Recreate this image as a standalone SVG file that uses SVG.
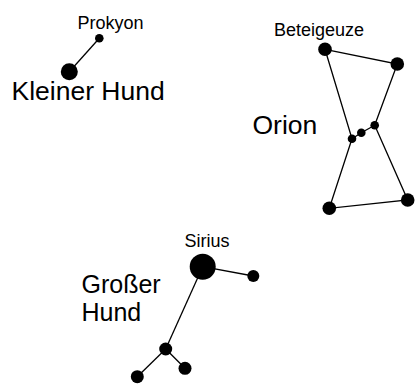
<svg xmlns="http://www.w3.org/2000/svg" width="415" height="385" viewBox="0 0 415 385">
<style>
.bg{fill:#fff}
.ln{stroke:#000;stroke-width:1.3;fill:none}
.st{fill:#000}
.big{font-family:"Liberation Sans",Arial,sans-serif;font-size:26.5px;fill:#000}
.mid{font-family:"Liberation Sans",Arial,sans-serif;font-size:25px;fill:#000}
.sm{font-family:"Liberation Sans",Arial,sans-serif;font-size:18px;fill:#000}
</style>
<rect class="bg" x="0" y="0" width="415" height="385"/>
<g id="connectors">
<line class="ln" x1="69.3" y1="71.7" x2="99.3" y2="38.3"/>
<polyline class="ln" points="325,49.3 397.3,64 374.7,125.3 407.7,200 329.3,208.3 352,138.7 325,49.3"/>
<polyline class="ln" points="352,138.7 361.3,132.7 374.7,125.3"/>
<line class="ln" x1="202.7" y1="266.7" x2="253.3" y2="276"/>
<line class="ln" x1="202.7" y1="266.7" x2="165.7" y2="349"/>
<line class="ln" x1="165.7" y1="349" x2="185" y2="368.3"/>
<line class="ln" x1="165.7" y1="349" x2="137.3" y2="376.7"/>
</g>
<g id="kleiner-hund">
<circle class="st" cx="99.3" cy="38.3" r="4.3"/>
<circle class="st" cx="69.3" cy="71.7" r="8.5"/>
<text class="sm" x="77.5" y="28.5">Prokyon</text>
<text class="big" x="11.5" y="100">Kleiner Hund</text>
</g>
<g id="orion">
<circle class="st" cx="325" cy="49.3" r="6.8"/>
<circle class="st" cx="397.3" cy="64" r="6.8"/>
<circle class="st" cx="374.7" cy="125.3" r="4.3"/>
<circle class="st" cx="361.3" cy="132.7" r="4.3"/>
<circle class="st" cx="352" cy="138.7" r="4.3"/>
<circle class="st" cx="329.3" cy="208.3" r="6.8"/>
<circle class="st" cx="407.7" cy="200" r="6.8"/>
<text class="sm" x="274" y="35.5">Beteigeuze</text>
<text class="big" x="252.5" y="133.5">Orion</text>
</g>
<g id="grosser-hund">
<circle class="st" cx="202.7" cy="266.7" r="13"/>
<circle class="st" cx="253.3" cy="276" r="6"/>
<circle class="st" cx="165.7" cy="349" r="6.5"/>
<circle class="st" cx="185" cy="368.3" r="6.5"/>
<circle class="st" cx="137.3" cy="376.7" r="6.5"/>
<text class="sm" x="184.5" y="247">Sirius</text>
<text class="mid" x="81.5" y="293">Großer</text>
<text class="mid" x="81.5" y="321">Hund</text>
</g>
</svg>
